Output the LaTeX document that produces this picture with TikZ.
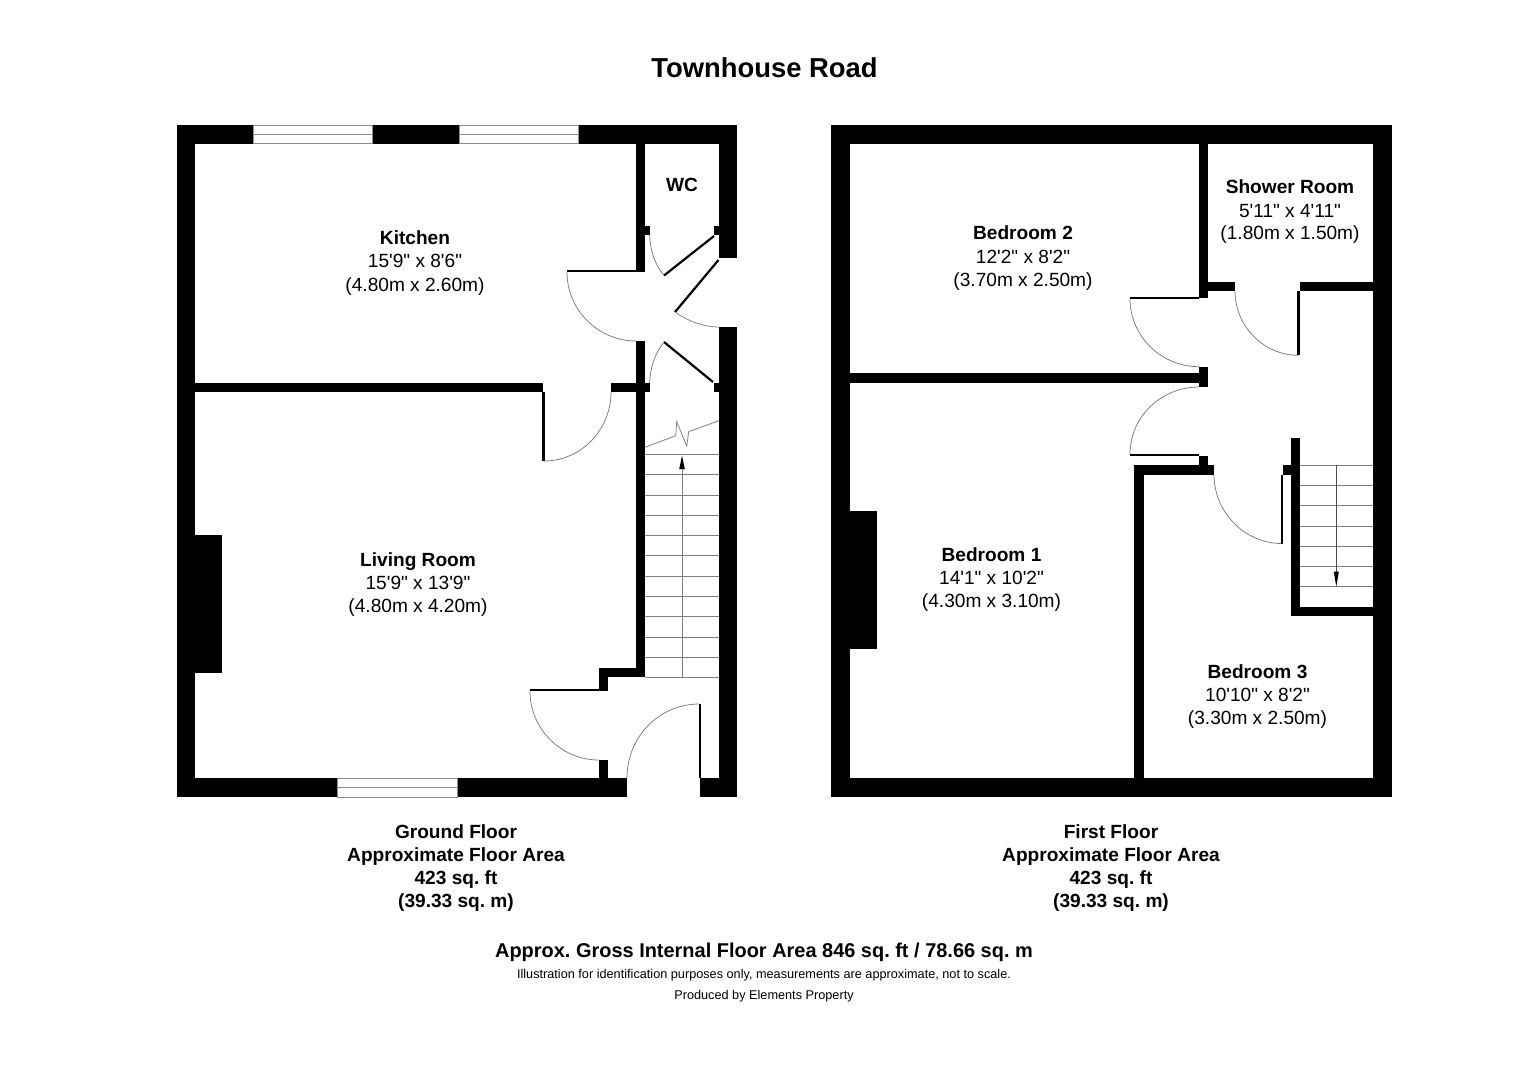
\documentclass[tikz,border=0pt]{standalone}
\usepackage{fontspec}
\setmainfont{Liberation Sans}[Ligatures=TeXOff]
\frenchspacing
\tikzset{
  wall/.style={fill=black},
  leaf/.style={draw=black, line width=2.2pt},
  swing/.style={draw=black!55, line width=0.7pt},
  tread/.style={draw=black!50, line width=0.8pt},
  pane/.style={draw=black!45, line width=0.9pt, fill=white},
  roomname/.style={anchor=base, yshift=-0.6pt, font=\fontsize{19.1}{19.1}\selectfont\bfseries},
  roomsize/.style={anchor=base, yshift=-0.6pt, font=\fontsize{19.1}{19.1}\selectfont},
  floortext/.style={anchor=base, yshift=-0.4pt, font=\fontsize{19.1}{19.1}\selectfont\bfseries},
  smalltext/.style={anchor=base, font=\fontsize{12.7}{12.7}\selectfont}
}
\begin{document}
\begin{tikzpicture}[x=1pt, y=-1pt]
    \useasboundingbox (0,0) rectangle (1528,1080);
    % ground floor walls
    \fill[wall] (177,125) rectangle (737,143.5);
    \fill[wall] (177,125) rectangle (195,797);
    \fill[wall] (177,778) rectangle (627,797);
    \fill[wall] (700,778) rectangle (737,797);
    \fill[wall] (719,125) rectangle (737,258);
    \fill[wall] (719,327) rectangle (737,797);
    \fill[wall] (636,143) rectangle (645,272);
    \fill[wall] (636,341) rectangle (645,677);
    \fill[wall] (195,383) rectangle (542.5,392);
    \fill[wall] (611,383) rectangle (650,392);
    \fill[wall] (714,383) rectangle (719,392);
    \fill[wall] (645,226) rectangle (650,235);
    \fill[wall] (714,226) rectangle (719,235);
    \fill[wall] (599,668) rectangle (645,677);
    \fill[wall] (599,668) rectangle (608,691);
    \fill[wall] (599,760) rectangle (608,778);
    \fill[wall] (195,535) rectangle (222,673);
    % ground floor windows
    \filldraw[pane] (253,125) rectangle (372,143.5);
    \draw[pane] (253,134.3) -- (372,134.3);
    \filldraw[pane] (459,125) rectangle (578,143.5);
    \draw[pane] (459,134.3) -- (578,134.3);
    \filldraw[pane] (337,778) rectangle (457,797);
    \draw[pane] (337,787.5) -- (457,787.5);
    % ground floor doors
    \draw[leaf] (567,271) -- (636,271);
    \draw[swing] (567,272) .. controls (567,310) and (598,341) .. (636,341);
    \draw[leaf] (714,236) -- (664,275.5);
    \draw[swing] (649.7,235) .. controls (650,250) and (655,265) .. (664,275.5);
    \draw[leaf] (718.5,260) -- (675,312);
    \draw[swing] (675,312) .. controls (688,321) and (703,327) .. (719,327);
    \draw[leaf] (713,382) -- (664,342);
    \draw[swing] (649.7,383) .. controls (650,368) and (655,353) .. (664,342);
    \draw[leaf] (543.5,392) -- (543.5,461);
    \draw[swing] (611,392) .. controls (611,430) and (581,461) .. (544,461);
    \draw[leaf] (530,690) -- (599,690);
    \draw[swing] (530,691) .. controls (530,729) and (561,760) .. (599,760);
    \draw[leaf] (700,704) -- (700,778);
    \draw[swing] (627,778) .. controls (627,737) and (659,704) .. (699,704);
    % stairs up
    \foreach \y in {454.3,474.6,494.9,515.2,535.5,555.8,576.1,596.4,616.7,637,657.3,677}
        \draw[tread] (645,\y) -- (719,\y);
    \draw[tread] (682,467) -- (682,677);
    \fill[black] (682,455.5) -- (684.8,469) -- (679.2,469) -- cycle;
    \draw[tread] (645,447.3) -- (675.7,435.7) -- (676.7,421.7) -- (686.7,446) -- (688.7,431.7) -- (719,420.7);
    % first floor walls
    \fill[wall] (831,125) rectangle (1392,143.5);
    \fill[wall] (831,125) rectangle (849.5,797);
    \fill[wall] (831,778) rectangle (1392,797);
    \fill[wall] (1373.3,125) rectangle (1392,797);
    \fill[wall] (1199,143) rectangle (1208,298);
    \fill[wall] (1208,281.5) rectangle (1235,290.7);
    \fill[wall] (1300,281.5) rectangle (1373.3,290.7);
    \fill[wall] (849,373.3) rectangle (1199,382.7);
    \fill[wall] (1199,366.7) rectangle (1208,387.3);
    \fill[wall] (1199,456) rectangle (1208,466);
    \fill[wall] (1134,465.3) rectangle (1214,474.5);
    \fill[wall] (1134,465.3) rectangle (1143.5,778);
    \fill[wall] (1282.7,465.3) rectangle (1291,474.5);
    \fill[wall] (1290.5,437.7) rectangle (1299.7,616);
    \fill[wall] (1290.5,606.7) rectangle (1373.3,616);
    \fill[wall] (849.5,511) rectangle (877,649);
    % first floor doors
    \draw[leaf] (1130,298) -- (1199,298);
    \draw[swing] (1130,299) .. controls (1130,336) and (1161,366.7) .. (1199,366.7);
    \draw[leaf] (1298.5,290.7) -- (1298.5,355.3);
    \draw[swing] (1235,290.7) .. controls (1235,326) and (1263,355) .. (1298,355.3);
    \draw[leaf] (1130,455) -- (1199,455);
    \draw[swing] (1199,387) .. controls (1161,387) and (1130,417) .. (1130,454);
    \draw[leaf] (1281.8,474.5) -- (1281.8,543.5);
    \draw[swing] (1214,474.5) .. controls (1214,512) and (1244,543) .. (1281,543.5);
    % stairs down
    \foreach \y in {465,485.3,505.6,525.9,546.1,566.4,586.7}
        \draw[tread] (1299.7,\y) -- (1373.3,\y);
    \draw[black!70, line width=0.6pt] (1336.3,465) -- (1336.3,572);
    \fill[black] (1336.3,586.7) -- (1338.8,571.7) -- (1333.8,571.7) -- cycle;
    % room labels
    \node[roomname] (kitchen) at (415,244.3) {Kitchen};
    \node[roomsize] (kitchenft) at (415,267.3) {15'9" x 8'6"};
    \node[roomsize] (kitchenm) at (415,291) {(4.80m x 2.60m)};
    \node[roomname] (wc) at (682,191.3) {WC};
    \node[roomname] (living) at (418,566.3) {Living Room};
    \node[roomsize] (livingft) at (418,589.3) {15'9" x 13'9"};
    \node[roomsize] (livingm) at (418,612.3) {(4.80m x 4.20m)};
    \node[roomname] (bedtwo) at (1023,239.3) {Bedroom 2};
    \node[roomsize] (bedtwoft) at (1023,263.3) {12'2" x 8'2"};
    \node[roomsize] (bedtwom) at (1023,286.3) {(3.70m x 2.50m)};
    \node[roomname] (shower) at (1290,193.3) {Shower Room};
    \node[roomsize] (showerft) at (1290,217.3) {5'11" x 4'11"};
    \node[roomsize] (showerm) at (1290,239.3) {(1.80m x 1.50m)};
    \node[roomname] (bedone) at (991.5,561.3) {Bedroom 1};
    \node[roomsize] (bedoneft) at (991.5,584.3) {14'1" x 10'2"};
    \node[roomsize] (bedonem) at (991.5,607.3) {(4.30m x 3.10m)};
    \node[roomname] (bedthree) at (1257.5,678.3) {Bedroom 3};
    \node[roomsize] (bedthreeft) at (1257.5,701.3) {10'10" x 8'2"};
    \node[roomsize] (bedthreem) at (1257.5,724.3) {(3.30m x 2.50m)};
    % floor captions
    \node[floortext] (ground) at (456,838) {Ground Floor};
    \node[floortext] (groundarea) at (456,861) {Approximate Floor Area};
    \node[floortext] (groundft) at (456,884) {423 sq. ft};
    \node[floortext] (groundm) at (456,907) {(39.33 sq. m)};
    \node[floortext] (first) at (1111,838) {First Floor};
    \node[floortext] (firstarea) at (1111,861) {Approximate Floor Area};
    \node[floortext] (firstft) at (1111,884) {423 sq. ft};
    \node[floortext] (firstm) at (1111,907) {(39.33 sq. m)};
    % title and notes
    \node[anchor=base, font=\fontsize{27.4}{27.4}\selectfont\bfseries] (title) at (764.5,77.8) {Townhouse Road};
    \node[anchor=base, font=\fontsize{19.95}{19.95}\selectfont\bfseries] (gross) at (764,957.9) {Approx. Gross Internal Floor Area 846 sq. ft / 78.66 sq. m};
    \node[smalltext] (note) at (764,978) {Illustration for identification purposes only, measurements are approximate, not to scale.};
    \node[smalltext] (producer) at (764,999) {Produced by Elements Property};
\end{tikzpicture}
\end{document}
